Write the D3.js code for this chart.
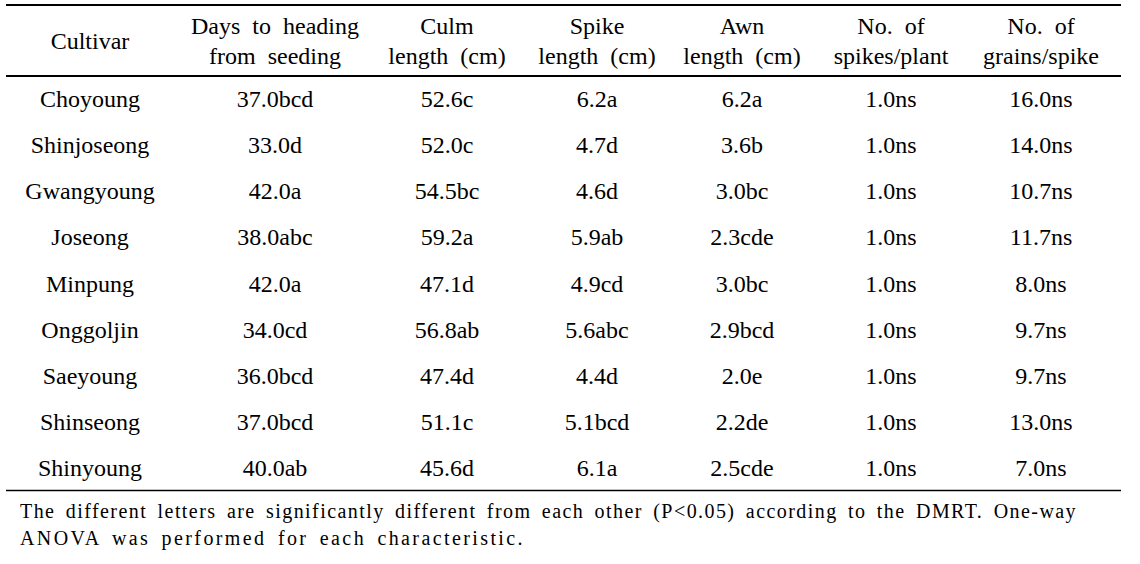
<!DOCTYPE html>
<html><head><meta charset="utf-8">
<script src="https://cdn.jsdelivr.net/npm/d3@7"></script>
<style>html,body{margin:0;padding:0;background:#fff;}svg{display:block;}
text{font-family:"Liberation Serif","Times New Roman",Times,"DejaVu Serif",serif;fill:#000;}</style>
</head><body>
<svg id="c" width="1140" height="564"></svg>
<script>
const headers = [["Cultivar"],["Days to heading","from seeding"],["Culm","length (cm)"],["Spike","length (cm)"],["Awn","length (cm)"],["No. of","spikes/plant"],["No. of","grains/spike"]];
const cultivars = ["Choyoung","Shinjoseong","Gwangyoung","Joseong","Minpung","Onggoljin","Saeyoung","Shinseong","Shinyoung"];
const daysToHeading = ["37.0bcd","33.0d","42.0a","38.0abc","42.0a","34.0cd","36.0bcd","37.0bcd","40.0ab"];
const culmLength = ["52.6c","52.0c","54.5bc","59.2a","47.1d","56.8ab","47.4d","51.1c","45.6d"];
const spikeLength = ["6.2a","4.7d","4.6d","5.9ab","4.9cd","5.6abc","4.4d","5.1bcd","6.1a"];
const awnLength = ["6.2a","3.6b","3.0bc","2.3cde","3.0bc","2.9bcd","2.0e","2.2de","2.5cde"];
const spikesPerPlant = ["1.0ns","1.0ns","1.0ns","1.0ns","1.0ns","1.0ns","1.0ns","1.0ns","1.0ns"];
const grainsPerSpike = ["16.0ns","14.0ns","10.7ns","11.7ns","8.0ns","9.7ns","9.7ns","13.0ns","7.0ns"];
const footnote = ["The different letters are significantly different from each other (P<0.05) according to the DMRT. One-way","ANOVA was performed for each characteristic."];

const columns = [cultivars, daysToHeading, culmLength, spikeLength, awnLength, spikesPerPlant, grainsPerSpike];
const colIdx = d3.range(columns.length);

const svg = d3.select("#c");
const x = d3.scaleOrdinal().domain(colIdx).range([90, 275, 447, 597, 742, 891, 1041]);
const y = d3.scaleBand().domain(cultivars).range([76, 491]);

const L = 6, R = 1121;
svg.append("line").attr("x1",L).attr("x2",R).attr("y1",5).attr("y2",5).attr("stroke","#000").attr("stroke-width",2);
svg.append("line").attr("x1",L).attr("x2",R).attr("y1",76).attr("y2",76).attr("stroke","#000").attr("stroke-width",2);
svg.append("line").attr("x1",L).attr("x2",R).attr("y1",490.5).attr("y2",490.5).attr("stroke","#000").attr("stroke-width",1.3);

headers.forEach((h,i)=>{
  const ys = h.length===1 ? [41] : [26,56];
  h.forEach((t,j)=>{
    svg.append("text").attr("x",x(i)).attr("y",ys[j]).attr("text-anchor","middle")
      .attr("dominant-baseline","central").attr("font-size",24)
      .attr("word-spacing",6).text(t);
  });
});

columns.forEach((col,i)=>{
  svg.append("g").selectAll("text").data(col).join("text")
    .attr("x",x(i)).attr("y",(d,k)=>y(cultivars[k])+y.bandwidth()/2)
    .attr("text-anchor","middle").attr("dominant-baseline","central")
    .attr("font-size",24).text(d=>d);
});

// footnote: each line spread to its end position in the reference
const left = 20, footEnds = [1077, 525], footY = [511, 538];
footnote.forEach((t,i)=>{
  const tx = svg.append("text").attr("x",left).attr("y",footY[i]).attr("dominant-baseline","central")
    .attr("font-size",20).attr("word-spacing",4).text(t);
  const w = tx.node().getComputedTextLength();
  tx.attr("letter-spacing",Math.max(0,(footEnds[i]-left-w)/t.length));
});
</script>
</body></html>
